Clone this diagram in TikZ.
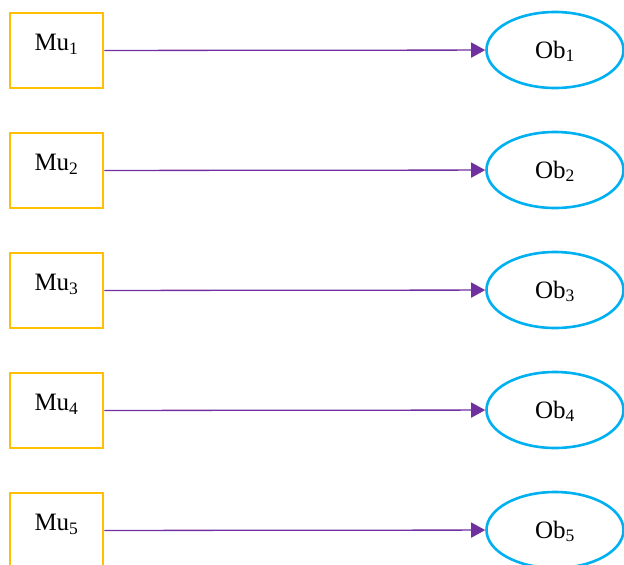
\documentclass[tikz,border=0pt]{standalone}
\usepackage{fontspec}
\setmainfont{Liberation Serif}
\usetikzlibrary{shapes.geometric,arrows.meta}
\definecolor{gold}{HTML}{FFC000}
\definecolor{sky}{HTML}{00B0F0}
\definecolor{purp}{HTML}{7030A0}
\begin{document}
\begin{tikzpicture}[x=1pt,y=-1pt,
  mubox/.style={draw=gold,line width=2.6pt,minimum width=93pt,minimum height=75pt,
    inner sep=0pt,text height=9pt,text depth=9pt,font=\fontsize{25}{29}\selectfont},
  obell/.style={ellipse,draw=sky,line width=2.6pt,minimum width=137pt,minimum height=76pt,
    inner sep=0pt,text height=16pt,text depth=0pt,font=\fontsize{25}{29}\selectfont},
  link/.style={draw=purp,line width=1.3pt,-{Triangle[length=14pt,width=15pt]}}]
\useasboundingbox (0,0) rectangle (624,565);
\foreach \i in {1,...,5} {
  \node[mubox] (mu\i) at (56.5,{50.5+120*(\i-1)}) {Mu\textsubscript{\i}};
  \node[obell] (ob\i) at (555,{50+120*(\i-1)}) {Ob\textsubscript{\i}};
  \draw[link] (mu\i) -- (ob\i);
}
\end{tikzpicture}
\end{document}
